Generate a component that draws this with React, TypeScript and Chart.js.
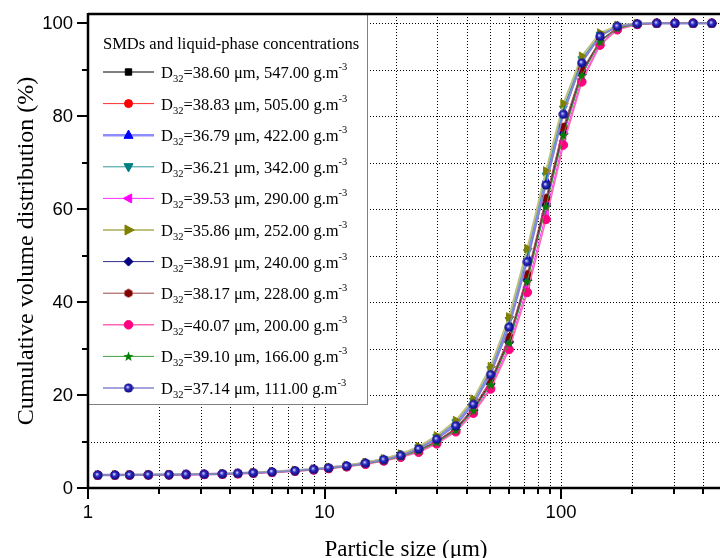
import React, { useEffect, useRef } from "react";
import { Chart, registerables } from "chart.js";

Chart.register(...registerables);

// Particle size classes (µm)
const sizes = [1.1, 1.3, 1.5, 1.8, 2.2, 2.6, 3.1, 3.7, 4.3, 5.0, 6.0, 7.5, 9.0, 10.4, 12.4, 14.9, 17.8, 21, 25, 29.8, 35.9, 42.6, 50.4, 60.3, 72, 86.4, 102.3, 122.4, 146.2, 173, 210, 254, 303, 362, 434];

const s547 = [2.76, 2.78, 2.8, 2.83, 2.86, 2.9, 2.95, 3.01, 3.11, 3.23, 3.42, 3.67, 3.96, 4.27, 4.66, 5.25, 5.95, 6.85, 8.1, 10.0, 12.7, 17.0, 22.8, 32.0, 45.4, 61.7, 77.0, 89.5, 96.2, 99.0, 99.85, 100, 100, 100, 100];
const s505 = [2.75, 2.77, 2.8, 2.82, 2.85, 2.89, 2.94, 3.0, 3.1, 3.22, 3.41, 3.66, 3.95, 4.25, 4.64, 5.2, 5.9, 6.8, 8.05, 9.9, 12.6, 16.8, 22.6, 31.6, 44.9, 61.1, 76.5, 89.2, 96.1, 99.0, 99.85, 100, 100, 100, 100];
const s422 = [2.78, 2.8, 2.83, 2.86, 2.89, 2.93, 2.98, 3.05, 3.15, 3.28, 3.48, 3.74, 4.04, 4.37, 4.78, 5.4, 6.2, 7.1, 8.6, 10.8, 13.8, 18.4, 25.0, 35.4, 49.8, 66.3, 81.1, 91.9, 97.4, 99.4, 99.9, 100, 100, 100, 100];
const s342 = [2.8, 2.82, 2.84, 2.87, 2.9, 2.94, 3.0, 3.06, 3.17, 3.3, 3.5, 3.76, 4.06, 4.4, 4.82, 5.45, 6.25, 7.2, 8.8, 11.0, 14.2, 18.8, 25.6, 36.2, 50.8, 67.3, 81.7, 92.3, 97.6, 99.45, 99.95, 100, 100, 100, 100];
const s290 = [2.74, 2.76, 2.78, 2.81, 2.84, 2.87, 2.92, 2.98, 3.07, 3.19, 3.37, 3.61, 3.9, 4.2, 4.58, 5.15, 5.85, 6.7, 7.9, 9.6, 12.2, 16.3, 21.7, 30.4, 43.2, 59.0, 74.7, 88.0, 95.6, 98.75, 99.8, 100, 100, 100, 100];
const s252 = [2.8, 2.82, 2.85, 2.88, 2.9, 2.95, 3.0, 3.07, 3.18, 3.32, 3.52, 3.78, 4.08, 4.42, 4.85, 5.5, 6.3, 7.3, 8.9, 11.2, 14.5, 19.1, 26.1, 36.8, 51.5, 68.2, 82.7, 92.9, 97.9, 99.5, 99.95, 100, 100, 100, 100];
const s240 = [2.75, 2.77, 2.79, 2.82, 2.85, 2.89, 2.94, 3.0, 3.1, 3.22, 3.4, 3.65, 3.94, 4.24, 4.63, 5.2, 5.9, 6.8, 8.0, 9.85, 12.5, 16.7, 22.4, 31.4, 44.7, 60.9, 76.3, 89.0, 96.0, 98.95, 99.85, 100, 100, 100, 100];
const s228 = [2.76, 2.78, 2.8, 2.83, 2.86, 2.9, 2.95, 3.02, 3.12, 3.24, 3.43, 3.68, 3.97, 4.28, 4.68, 5.3, 6.0, 6.9, 8.2, 10.1, 12.9, 17.3, 23.2, 32.5, 46.0, 62.4, 77.7, 89.9, 96.3, 99.1, 99.85, 100, 100, 100, 100];
const s200 = [2.73, 2.75, 2.77, 2.8, 2.83, 2.86, 2.91, 2.97, 3.06, 3.18, 3.35, 3.59, 3.88, 4.17, 4.55, 5.1, 5.8, 6.6, 7.7, 9.5, 12.1, 16.1, 21.3, 29.8, 42.1, 57.8, 73.8, 87.4, 95.3, 98.6, 99.75, 100, 100, 100, 100];
const s166 = [2.75, 2.77, 2.79, 2.82, 2.85, 2.88, 2.93, 2.99, 3.09, 3.21, 3.39, 3.64, 3.93, 4.23, 4.62, 5.2, 5.9, 6.75, 8.0, 9.8, 12.4, 16.6, 22.2, 31.2, 44.5, 60.5, 75.9, 88.8, 96.0, 98.9, 99.8, 100, 100, 100, 100];
const s111 = [2.78, 2.8, 2.82, 2.85, 2.88, 2.92, 2.97, 3.04, 3.14, 3.27, 3.46, 3.72, 4.02, 4.34, 4.75, 5.35, 6.1, 7.0, 8.4, 10.5, 13.4, 18.0, 24.4, 34.6, 48.7, 65.2, 80.4, 91.5, 97.2, 99.35, 99.9, 100, 100, 100, 100];

const d32Values = ["38.60", "38.83", "36.79", "36.21", "39.53", "35.86", "38.91", "38.17", "40.07", "39.10", "37.14"];
const concValues = ["547.00", "505.00", "422.00", "342.00", "290.00", "252.00", "240.00", "228.00", "200.00", "166.00", "111.00"];
const seriesValues = [s547, s505, s422, s342, s290, s252, s240, s228, s200, s166, s111];

const xTickValues = [1, 2, 3, 4, 5, 6, 7, 8, 9, 10, 20, 30, 40, 50, 60, 70, 80, 90, 100, 200, 300, 400];
const xLabelValues = [1, 10, 100];
const yTickValues = [0, 10, 20, 30, 40, 50, 60, 70, 80, 90, 100];
const yLabelValues = [0, 20, 40, 60, 80, 100];

const legendTitle = "SMDs and liquid-phase concentrations";
const xTitle = "Particle size (μm)";
const yTitle = "Cumulative volume distribution (%)";

const SANS = '"Liberation Sans", Arial, sans-serif';
const SERIF = '"Liberation Serif", "Times New Roman", serif';

function makeSphere(): HTMLCanvasElement {
  const c = document.createElement("canvas");
  c.width = 10; c.height = 10;
  const g = c.getContext("2d")!;
  const grad = g.createRadialGradient(4, 4, 0.3, 5, 5, 5);
  grad.addColorStop(0, "#e0e0ff");
  grad.addColorStop(0.35, "#3030c8");
  grad.addColorStop(1, "#000070");
  g.fillStyle = grad;
  g.beginPath(); g.arc(5, 5, 4.6, 0, Math.PI * 2); g.fill();
  return c;
}
function makeStar(): HTMLCanvasElement {
  const c = document.createElement("canvas");
  c.width = 11; c.height = 11;
  const g = c.getContext("2d")!;
  g.fillStyle = "#008000";
  g.beginPath();
  for (let k = 0; k < 10; k++) {
    const r = k % 2 === 0 ? 5.3 : 2.2;
    const a = -Math.PI / 2 + (k * Math.PI) / 5;
    const px = 5.5 + r * Math.cos(a), py = 5.8 + r * Math.sin(a);
    k === 0 ? g.moveTo(px, py) : g.lineTo(px, py);
  }
  g.closePath(); g.fill();
  return c;
}
function makeHex(): HTMLCanvasElement {
  const c = document.createElement("canvas");
  c.width = 10; c.height = 10;
  const g = c.getContext("2d")!;
  g.fillStyle = "#800000";
  g.beginPath();
  for (let k = 0; k < 6; k++) {
    const a = Math.PI / 6 + (k * Math.PI) / 3;
    const px = 5 + 4.6 * Math.cos(a), py = 5 + 4.6 * Math.sin(a);
    k === 0 ? g.moveTo(px, py) : g.lineTo(px, py);
  }
  g.closePath(); g.fill();
  return c;
}

type Style = { line: string; lw: number; mark: string; shape: any; rot: number; r: number };

function drawMarker(ctx: CanvasRenderingContext2D, st: Style, x: number, y: number) {
  ctx.save();
  ctx.setLineDash([]);
  if (typeof st.shape !== "string") {
    const im = st.shape as HTMLCanvasElement;
    ctx.drawImage(im, x - im.width / 2, y - im.height / 2);
    ctx.restore();
    return;
  }
  ctx.fillStyle = st.mark;
  ctx.strokeStyle = st.mark;
  ctx.lineWidth = 1;
  ctx.translate(x, y);
  ctx.rotate((st.rot * Math.PI) / 180);
  const r = st.r;
  ctx.beginPath();
  if (st.shape === "rect") {
    ctx.rect(-r * 0.8, -r * 0.8, r * 1.6, r * 1.6);
  } else if (st.shape === "circle") {
    ctx.arc(0, 0, r, 0, Math.PI * 2);
  } else if (st.shape === "triangle") {
    ctx.moveTo(0, -r * 1.15);
    ctx.lineTo(r, r * 0.7);
    ctx.lineTo(-r, r * 0.7);
    ctx.closePath();
  } else if (st.shape === "rectRot") {
    ctx.moveTo(0, -r); ctx.lineTo(r, 0); ctx.lineTo(0, r); ctx.lineTo(-r, 0); ctx.closePath();
  }
  ctx.fill();
  ctx.stroke();
  ctx.restore();
}

export default function App() {
  const ref = useRef<HTMLCanvasElement | null>(null);

  useEffect(() => {
    const canvas = ref.current;
    if (!canvas) return;
    const sphere = makeSphere();
    const star = makeStar();
    const hex = makeHex();

    const styles: Style[] = [
      { line: "#000000", lw: 1, mark: "#000000", shape: "rect", rot: 0, r: 4 },
      { line: "#ff3030", lw: 1, mark: "#ff0000", shape: "circle", rot: 0, r: 4 },
      { line: "#8c8cff", lw: 2.5, mark: "#0000ff", shape: "triangle", rot: 0, r: 4.5 },
      { line: "#309a9a", lw: 1, mark: "#008080", shape: "triangle", rot: 180, r: 4.5 },
      { line: "#ff30ff", lw: 1, mark: "#ff00ff", shape: "triangle", rot: -90, r: 4.5 },
      { line: "#c0c080", lw: 2, mark: "#808000", shape: "triangle", rot: 90, r: 5 },
      { line: "#30308c", lw: 1, mark: "#000080", shape: "rectRot", rot: 0, r: 4.5 },
      { line: "#a04848", lw: 1, mark: "#800000", shape: hex, rot: 0, r: 4.5 },
      { line: "#ff66b3", lw: 1.5, mark: "#ff0080", shape: "circle", rot: 0, r: 4.3 },
      { line: "#40a040", lw: 1, mark: "#008000", shape: star, rot: 0, r: 5 },
      { line: "#8484cc", lw: 1.5, mark: "#000090", shape: sphere, rot: 0, r: 5 },
    ];

    const datasets = seriesValues.map((vals, i) => {
      const st = styles[i];
      return {
        label: `D32=${d32Values[i]} μm, ${concValues[i]} g.m-3`,
        data: sizes.map((x, k) => ({ x, y: vals[k] })),
        borderColor: st.line,
        borderWidth: st.lw,
        backgroundColor: st.mark,
        pointBackgroundColor: st.mark,
        pointBorderColor: st.mark,
        pointBorderWidth: 1,
        pointStyle: st.shape,
        pointRotation: st.rot,
        pointRadius: st.r,
        tension: 0,
        fill: false,
        order: 11 - i,
        clip: false as any,
      };
    });

    const gridPlugin = {
      id: "originGrid",
      beforeDatasetsDraw(chart: any) {
        const { ctx, chartArea, scales } = chart;
        const xs = scales.x, ys = scales.y;
        ctx.save();
        ctx.strokeStyle = "#000000";
        ctx.lineWidth = 1;
        ctx.setLineDash([1, 2]);
        xTickValues.forEach((v) => {
          if (v === 1) return;
          const px = Math.round(xs.getPixelForValue(v)) + 0.5;
          ctx.beginPath(); ctx.moveTo(px, chartArea.top); ctx.lineTo(px, chartArea.bottom); ctx.stroke();
        });
        yTickValues.forEach((v) => {
          if (v === 0) return;
          const py = Math.round(ys.getPixelForValue(v)) + 0.5;
          ctx.beginPath(); ctx.moveTo(chartArea.left, py); ctx.lineTo(chartArea.right, py); ctx.stroke();
        });
        ctx.restore();
      },
      afterDatasetsDraw(chart: any) {
        const { ctx, chartArea, scales } = chart;
        const xs = scales.x, ys = scales.y;
        const L = chartArea.left, T = chartArea.top, R = chartArea.right, B = chartArea.bottom;

        // Legend box
        const lx0 = L, ly0 = T, lx1 = 367, ly1 = 404;
        ctx.save();
        ctx.fillStyle = "#ffffff";
        ctx.fillRect(lx0, ly0, lx1 - lx0, ly1 - ly0);
        ctx.strokeStyle = "#808080";
        ctx.lineWidth = 1;
        ctx.setLineDash([]);
        ctx.strokeRect(lx0 + 0.5, ly0 + 0.5, lx1 - lx0, ly1 - ly0);
        ctx.fillStyle = "#000000";
        ctx.font = `16.5px ${SERIF}`;
        ctx.textBaseline = "middle";
        ctx.textAlign = "left";
        ctx.fillText(legendTitle, 103, 45);
        for (let i = 0; i < styles.length; i++) {
          const st = styles[i];
          const cy = 72 + i * 31.6;
          ctx.strokeStyle = st.line;
          ctx.lineWidth = st.lw;
          ctx.beginPath(); ctx.moveTo(103, cy); ctx.lineTo(154, cy); ctx.stroke();
          drawMarker(ctx, st, 128.5, cy);
          // label with subscript / superscript
          let tx = 161;
          const base = cy + 6;
          ctx.fillStyle = "#000000";
          ctx.textBaseline = "alphabetic";
          ctx.font = `16.5px ${SERIF}`;
          ctx.fillText("D", tx, base); tx += ctx.measureText("D").width;
          ctx.font = `10.5px ${SERIF}`;
          ctx.fillText("32", tx, base + 4); tx += ctx.measureText("32").width;
          ctx.font = `16.5px ${SERIF}`;
          const mid = `=${d32Values[i]} μm, ${concValues[i]} g.m`;
          ctx.fillText(mid, tx, base); tx += ctx.measureText(mid).width;
          ctx.font = `10.5px ${SERIF}`;
          ctx.fillText("-3", tx, base - 8);
        }
        ctx.restore();

        // Axes lines
        ctx.save();
        ctx.setLineDash([]);
        ctx.strokeStyle = "#000000";
        ctx.lineWidth = 2.5;
        ctx.beginPath();
        ctx.moveTo(L, B); ctx.lineTo(R, B);
        ctx.moveTo(L, B + 1); ctx.lineTo(L, T - 1);
        ctx.moveTo(L, T); ctx.lineTo(R, T);
        ctx.stroke();
        // ticks
        ctx.lineWidth = 2;
        xTickValues.forEach((v) => {
          const px = Math.round(xs.getPixelForValue(v));
          const major = xLabelValues.includes(v);
          ctx.beginPath(); ctx.moveTo(px, B); ctx.lineTo(px, B + (major ? 11 : 6)); ctx.stroke();
        });
        yTickValues.forEach((v) => {
          const py = Math.round(ys.getPixelForValue(v));
          const major = yLabelValues.includes(v);
          ctx.beginPath(); ctx.moveTo(L, py); ctx.lineTo(L - (major ? 11 : 6), py); ctx.stroke();
        });
        // tick labels
        ctx.fillStyle = "#000000";
        ctx.font = `18.5px ${SANS}`;
        ctx.textBaseline = "middle";
        ctx.textAlign = "right";
        yLabelValues.forEach((v) => {
          ctx.fillText(String(v), 73, ys.getPixelForValue(v) + 1);
        });
        ctx.textAlign = "center";
        xLabelValues.forEach((v) => {
          ctx.fillText(String(v), xs.getPixelForValue(v), 513);
        });
        // titles
        ctx.font = `23px ${SERIF}`;
        ctx.textBaseline = "alphabetic";
        ctx.fillText(xTitle, 406, 556);
        ctx.save();
        ctx.translate(33, 251);
        ctx.rotate(-Math.PI / 2);
        ctx.font = `24px ${SERIF}`;
        ctx.textAlign = "center";
        ctx.textBaseline = "alphabetic";
        ctx.fillText(yTitle, 0, 0);
        ctx.restore();
        ctx.restore();
      },
    };

    const chart = new Chart(canvas, {
      type: "line",
      data: { datasets: datasets as any },
      options: {
        animation: false,
        responsive: false,
        maintainAspectRatio: false,
        layout: { autoPadding: false, padding: { top: 14, right: 0, left: 0, bottom: 0 } },
        plugins: { legend: { display: false }, tooltip: { enabled: false } },
        scales: {
          x: {
            type: "logarithmic",
            min: 1,
            max: 470,
            afterBuildTicks: (s: any) => { s.ticks = xTickValues.map((v) => ({ value: v })); },
            afterFit: (s: any) => { s.height = 70; },
            grid: { display: false },
            border: { display: false },
            ticks: { display: false },
          },
          y: {
            type: "linear",
            min: 0,
            max: 102,
            afterBuildTicks: (s: any) => { s.ticks = yTickValues.map((v) => ({ value: v })); },
            afterFit: (s: any) => { s.width = 88; },
            grid: { display: false },
            border: { display: false },
            ticks: { display: false },
          },
        },
      } as any,
      plugins: [gridPlugin],
    });
    return () => chart.destroy();
  }, []);

  return (
    <div style={{ position: "fixed", left: 0, top: 0, width: 720, height: 558, background: "#ffffff" }}>
      <canvas ref={ref} width={720} height={558} style={{ display: "block", width: 720, height: 558 }} />
    </div>
  );
}
